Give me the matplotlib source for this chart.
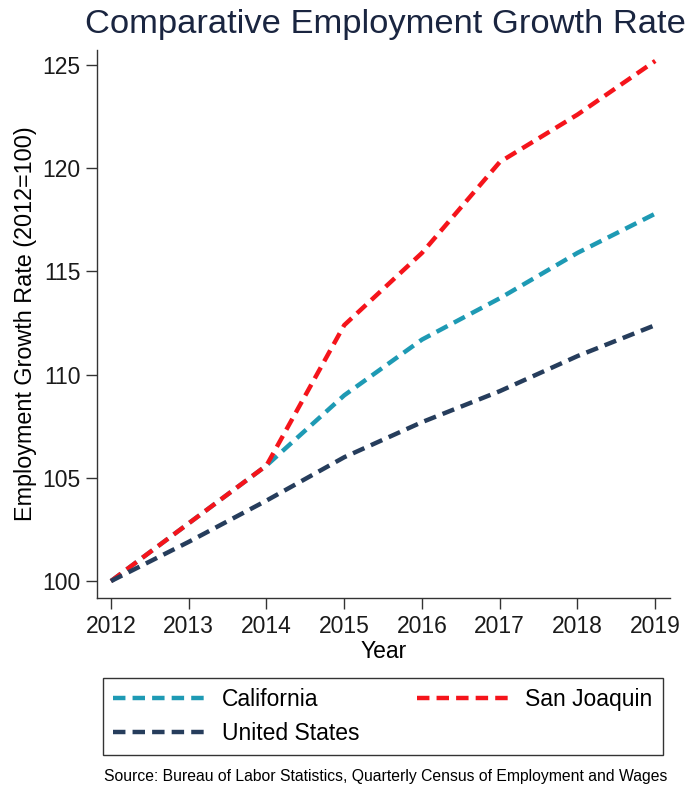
import matplotlib
matplotlib.use("Agg")
import matplotlib.pyplot as plt

years = [2012, 2013, 2014, 2015, 2016, 2017, 2018, 2019]
california = [100.0, 102.8, 105.6, 109.0, 111.7, 113.7, 115.9, 117.8]
san_joaquin = [100.0, 102.8, 105.6, 112.4, 115.9, 120.3, 122.6, 125.2]
united_states = [100.0, 101.9, 103.9, 106.0, 107.7, 109.2, 110.9, 112.4]
yticks = [100, 105, 110, 115, 120, 125]

plt.rcParams['font.family'] = ['Liberation Sans', 'DejaVu Sans']

fig = plt.figure(figsize=(6.98, 7.94), dpi=100)
ax = fig.add_axes([97/698, 1-598/794, (670-97)/698, (598-50)/794])

lw = 3.2
dash = (2.8, 1.6)
l1, = ax.plot(years, california, color='#1e9ab4', lw=lw, dashes=dash, label='California')
l2, = ax.plot(years, san_joaquin, color='#f5141b', lw=lw, dashes=dash, label='San Joaquin')
l3, = ax.plot(years, united_states, color='#263d5c', lw=lw, dashes=dash, label='United States')

ax.set_xlim(2011.82, 2019.19)
ax.set_ylim(99.18, 125.73)
ax.set_xticks(years)
ax.set_yticks(yticks)
ax.tick_params(axis='both', labelsize=16.5, length=8, width=1, color='#333333',
               direction='out', labelcolor='#1a1a1a')
ax.tick_params(axis='x', pad=4)
ax.tick_params(axis='y', pad=4)
for s in ['top', 'right']:
    ax.spines[s].set_visible(False)
for s in ['left', 'bottom']:
    ax.spines[s].set_color('#333333')
    ax.spines[s].set_linewidth(1)

ax.set_xlabel('Year', fontsize=16.5, labelpad=2)
ax.set_ylabel('Employment Growth Rate (2012=100)', fontsize=16.8, labelpad=4)

fig.text(0.5 + 36/698, 1-24/794, 'Comparative Employment Growth Rate', ha='center', va='center',
         fontsize=24.8, color='#1a2540')

leg = fig.legend(handles=[l1, l3, l2], loc='upper left', ncol=2,
                 bbox_to_anchor=(103/698, 1-678/794, (663-103)/698, 0), mode='expand',
                 borderaxespad=0,
                 fontsize=16.5, handlelength=4.0, frameon=True, fancybox=False,
                 edgecolor='black', borderpad=0.45, labelspacing=0.45, columnspacing=2.0,
                 handletextpad=0.75)
leg.get_frame().set_linewidth(1)

fig.text(386/698, 1-776/794, 'Source: Bureau of Labor Statistics, Quarterly Census of Employment and Wages',
         ha='center', va='center', fontsize=11.3)

fig.savefig('out.png', dpi=100)
